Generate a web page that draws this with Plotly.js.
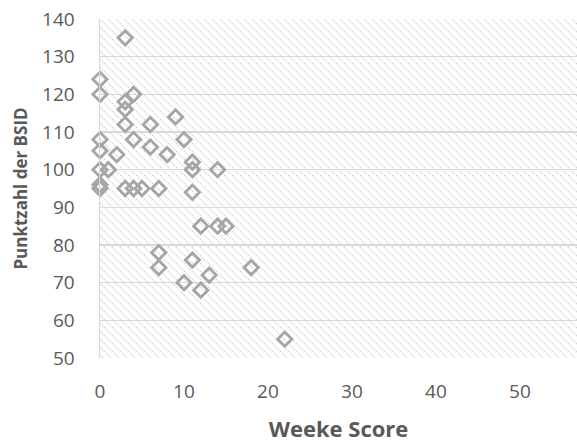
<!DOCTYPE html>
<html>
<head>
<meta charset="utf-8">
<script src="https://cdn.plot.ly/plotly-3.0.1.min.js"></script>
<style>html,body{margin:0;padding:0;background:#fff;}#chart{width:577px;height:443px;}</style>
</head>
<body>
<div id="chart"></div>
<script>
// Data
const weekeScore = [3, 0, 0, 4, 3, 3, 3, 6, 9, 0, 4, 10, 0, 2, 6, 8, 11, 0, 1, 11, 14, 0, 0, 3, 4, 5, 7, 11, 12, 14, 15, 7, 7, 11, 18, 10, 13, 12, 22];
const bsidScore  = [135, 124, 120, 120, 118, 116, 112, 112, 114, 108, 108, 108, 105, 104, 106, 104, 102, 100, 100, 100, 100, 96, 95, 95, 95, 95, 95, 94, 85, 85, 85, 78, 74, 76, 74, 70, 72, 68, 55];
const xTicks = [0, 10, 20, 30, 40, 50];
const yTicks = [50, 60, 70, 80, 90, 100, 110, 120, 130, 140];

const W = 577, H = 443;
const margin = {l: 100, r: 0, t: 19, b: 85};
const pw = W - margin.l - margin.r, ph = H - margin.t - margin.b;

// hatch texture for plot area background
const svg = `<svg xmlns="http://www.w3.org/2000/svg" width="${pw}" height="${ph}" viewBox="0 0 ${pw} ${ph}" preserveAspectRatio="none">` +
  `<defs><pattern id="p" width="8" height="8" patternUnits="userSpaceOnUse">` +
  `<rect width="8" height="8" fill="#ffffff"/>` +
  `<path d="M-2,-2 L10,10 M-2,6 L2,10 M6,-2 L10,2" stroke="#d0d0d0" stroke-width="1.3" stroke-dasharray="1.4,1.4"/>` +
  `</pattern></defs><rect width="100%" height="100%" fill="url(#p)"/></svg>`;
const hatch = 'data:image/svg+xml;base64,' + btoa(svg);

const font = '"Open Sans", "Liberation Sans", sans-serif';
const txt = '#595959';

const trace = {
  x: weekeScore, y: bsidScore,
  type: 'scatter', mode: 'markers', cliponaxis: false,
  marker: {symbol: 'diamond-open', size: 11, color: '#a5a5a5', line: {color: '#a5a5a5', width: 2.8}},
  hoverinfo: 'x+y'
};

const layout = {
  width: W, height: H,
  margin: margin,
  paper_bgcolor: '#ffffff',
  plot_bgcolor: 'rgba(0,0,0,0)',
  showlegend: false,
  font: {family: font, color: txt},
  images: [{source: hatch, xref: 'paper', yref: 'paper', x: 0, y: 1, sizex: 1, sizey: 1,
            xanchor: 'left', yanchor: 'top', sizing: 'stretch', layer: 'below'}],
  xaxis: {
    range: [0, 56.8], tickvals: xTicks, ticktext: xTicks.map(String),
    showgrid: false, zeroline: false, showline: false,
    ticks: 'outside', ticklen: 16, tickcolor: 'rgba(0,0,0,0)',
    tickfont: {family: font, size: 19, color: txt},
    title: {text: '<b>Weeke Score</b>', font: {family: font, size: 22, color: txt}, standoff: 19}
  },
  yaxis: {
    range: [50, 140], tickvals: yTicks, ticktext: yTicks.map(String),
    showgrid: true, gridcolor: '#d9d9d9', gridwidth: 1.5,
    zeroline: false, showline: true, linecolor: '#d9d9d9', linewidth: 1.5,
    ticks: 'outside', ticklen: 20, tickcolor: 'rgba(0,0,0,0)',
    tickfont: {family: font, size: 19, color: txt},
    title: {text: '<b>Punktzahl der BSID</b>', font: {family: font, size: 17, color: txt}, standoff: 10}
  }
};

Plotly.newPlot('chart', [trace], layout, {displayModeBar: false, staticPlot: true});
</script>
</body>
</html>
